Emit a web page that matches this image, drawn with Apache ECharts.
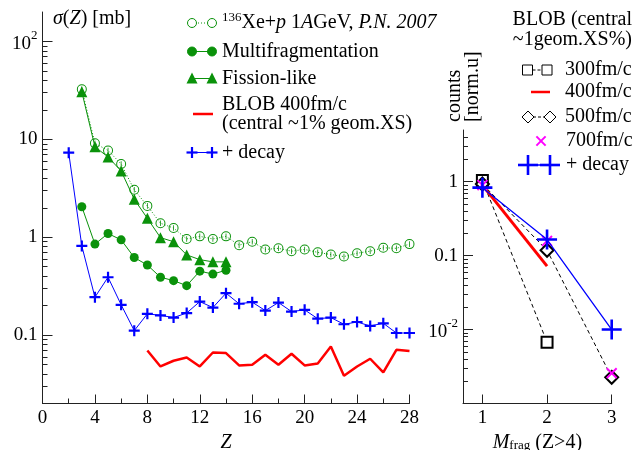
<!DOCTYPE html>
<html>
<head>
<meta charset="utf-8">
<script src="https://cdn.jsdelivr.net/npm/echarts@6/dist/echarts.min.js"></script>
<style>
  html, body { margin: 0; padding: 0; background: #fff; }
  #chart { width: 634px; height: 450px; }
</style>
</head>
<body>
<div id="chart"></div>
<script>
// ---- charge distribution sigma(Z), left panel ----
const zValues = [2, 3, 4, 5, 6, 7, 8, 9, 10, 11, 12, 13, 14, 15, 16, 17, 18, 19, 20, 21, 22, 23, 24, 25, 26, 27, 28];

// 136Xe+p 1 AGeV measurement, Z = 3..28
const expZ = [3, 4, 5, 6, 7, 8, 9, 10, 11, 12, 13, 14, 15, 16, 17, 18, 19, 20, 21, 22, 23, 24, 25, 26, 27, 28];
const expSigma = [32.4, 9.1, 7.7, 5.6, 3.05, 2.09, 1.39, 1.24, 0.96, 1.02, 0.96, 1.02, 0.83, 0.90, 0.75, 0.77, 0.72, 0.75, 0.70, 0.665, 0.634, 0.686, 0.72, 0.78, 0.77, 0.85];

// multifragmentation and fission-like components, Z = 3..14
const compZ = [3, 4, 5, 6, 7, 8, 9, 10, 11, 12, 13, 14];
const multifragSigma = [2.05, 0.85, 1.09, 0.94, 0.62, 0.52, 0.39, 0.36, 0.32, 0.45, 0.42, 0.46];
const fissionSigma = [30.6, 8.4, 6.6, 4.75, 2.44, 1.56, 0.99, 0.90, 0.66, 0.59, 0.56, 0.56];

// BLOB 400 fm/c (central ~1% geom. XS), Z = 8..28
const blobZ = [8, 9, 10, 11, 12, 13, 14, 15, 16, 17, 18, 19, 20, 21, 22, 23, 24, 25, 26, 27, 28];
const blobSigma = [0.0697, 0.0478, 0.0547, 0.059, 0.0478, 0.0664, 0.0655, 0.049, 0.0498, 0.063, 0.0498, 0.0645, 0.049, 0.0513, 0.0765, 0.0384, 0.0478, 0.0573, 0.0415, 0.0708, 0.0687];

// BLOB + secondary decay, Z = 2..28
const decaySigma = [7.3, 0.815, 0.244, 0.39, 0.204, 0.111, 0.165, 0.159, 0.151, 0.168, 0.22, 0.191, 0.268, 0.209, 0.217, 0.178, 0.215, 0.174, 0.181, 0.147, 0.151, 0.129, 0.136, 0.124, 0.132, 0.105, 0.105];

// ---- fragment multiplicity (Z>4), right panel ----
const mfrag300 = [1, 2];
const counts300 = [1.04, 0.00675];
const mfrag400 = [1, 2];
const counts400 = [0.9, 0.072];
const mfrag500 = [1, 2, 3];
const counts500 = [0.93, 0.118, 0.00226];
const mfrag700 = [1, 2, 3];
const counts700 = [0.9, 0.158, 0.00257];
const mfragDecay = [1, 2, 3];
const countsDecay = [0.83, 0.165, 0.01];

// ---- tick positions ----
const mfragTicks = [1, 2, 3];
const sigmaMajorTicks = [0.1, 1, 10, 100];
const countsMajorTicks = [0.01, 0.1, 1];
const decadeSteps = [2, 3, 4, 5, 6, 7, 8, 9];

// minor log ticks: 2..9 times each decade, kept inside [lo, hi]
function minorLogTicks(lo, hi) {
  const out = [];
  for (let e = Math.floor(Math.log10(lo)); e <= Math.ceil(Math.log10(hi)); e++) {
    decadeSteps.forEach(function (k) {
      const v = +(k * Math.pow(10, e)).toPrecision(6);
      if (v > lo * 1.0001 && v < hi * 0.9999) out.push(v);
    });
  }
  return out;
}

const pair = (xs, ys) => xs.map((x, i) => [x, ys[i]]);

const FONT = 'Liberation Serif';
const FS = 19;      // tick labels
const LFS = 20;     // legends and titles
const GREEN = '#0a920a';
const BLUE = '#0000ff';
const RED = '#ff0000';
const MAGENTA = '#ff00ff';
const AXIS = '#222';
const PLUS = 'path://M0,4H10V6H0Z M4,0H6V10H4Z';
const PLUS_THIN = 'path://M0,4.35H10V5.65H0Z M4.35,0H5.65V10H4.35Z';
const CROSS = 'path://M0,4.3H10V5.7H0Z M4.3,0H5.7V10H4.3Z';
// open circle with a short vertical error bar inside
const RING_BAR = 'path://M5,0A5,5,0,1,1,5,10A5,5,0,1,1,5,0Z M5,1A4,4,0,1,0,5,9A4,4,0,1,0,5,1Z M4.6,2.2H5.4V7.8H4.6Z';

function logLabel(v) {
  const e = Math.log10(v);
  const r = Math.round(e);
  if (Math.abs(e - r) > 1e-6) return '';
  if (r === 0) return '1';
  if (r === -1) return '0.1';
  if (r === 1) return '10';
  return '{b|10}{s|' + r + '}';
}

const labelRich = {
  b: { fontFamily: FONT, fontSize: FS, color: '#000', lineHeight: 24, verticalAlign: 'bottom' },
  s: { fontFamily: FONT, fontSize: 13, color: '#000', lineHeight: 24, verticalAlign: 'top' }
};

const chart = echarts.init(document.getElementById('chart'), null, { renderer: 'canvas' });

// legend helpers (drawn with graphic primitives)
function hLine(x1, x2, y, color, width, dash) {
  return { type: 'line', shape: { x1: x1, y1: y, x2: x2, y2: y }, style: { stroke: color, lineWidth: width, lineDash: dash || null } };
}
function circ(x, y, r, stroke, fill) {
  return { type: 'circle', shape: { cx: x, cy: y, r: r }, style: { stroke: stroke, fill: fill, lineWidth: 1 } };
}
function tri(x, y, s, color) {
  return { type: 'polygon', shape: { points: [[x, y - s * 0.55], [x - s / 2, y + s * 0.45], [x + s / 2, y + s * 0.45]] }, style: { fill: color } };
}
function plus(x, y, s, w, color) {
  return [
    { type: 'line', shape: { x1: x - s / 2, y1: y, x2: x + s / 2, y2: y }, style: { stroke: color, lineWidth: w } },
    { type: 'line', shape: { x1: x, y1: y - s / 2, x2: x, y2: y + s / 2 }, style: { stroke: color, lineWidth: w } }
  ];
}
function rect(x, y, s) {
  return { type: 'rect', shape: { x: x - s / 2, y: y - s / 2, width: s, height: s }, style: { stroke: '#000', fill: '#fff', lineWidth: 1 } };
}
function diamond(x, y, s) {
  return { type: 'polygon', shape: { points: [[x, y - s / 2], [x + s / 2, y], [x, y + s / 2], [x - s / 2, y]] }, style: { stroke: '#000', fill: '#fff', lineWidth: 1 } };
}
function txt(x, y, text, opts, rotation) {
  const el = {
    type: 'text', x: x, y: y,
    style: Object.assign({ x: 0, y: 0, text: text, fontFamily: FONT, fontSize: LFS, fill: '#000', verticalAlign: 'middle', align: 'left' }, opts || {})
  };
  if (rotation) el.rotation = rotation;
  return el;
}

const richLegend = {
  s: { fontFamily: FONT, fontSize: 13, verticalAlign: 'top', lineHeight: 22, fill: '#000' },
  i: { fontFamily: FONT, fontSize: LFS, fontStyle: 'italic', lineHeight: 22, verticalAlign: 'bottom', fill: '#000' },
  n: { fontFamily: FONT, fontSize: LFS, lineHeight: 22, verticalAlign: 'bottom', fill: '#000' }
};

const graphics = [
  // left panel legend
  hLine(192, 212, 23, GREEN, 1, [1, 2]),
  circ(192, 23, 4.5, GREEN, '#fff'),
  circ(212, 23, 4.5, GREEN, '#fff'),
  txt(222, 22, '{s|136}{n|Xe+}{i|p}{n| 1}{i|A}{n|GeV, }{i|P.N. 2007}', { rich: richLegend }),

  hLine(192, 212, 51.5, GREEN, 1),
  circ(192, 51.5, 4.5, GREEN, GREEN),
  circ(212, 51.5, 4.5, GREEN, GREEN),
  txt(222, 51.5, 'Multifragmentation'),

  hLine(192, 212, 78.5, GREEN, 1),
  tri(192, 78.5, 11, GREEN),
  tri(212, 78.5, 11, GREEN),
  txt(222, 78.5, 'Fission-like'),

  hLine(193, 213, 114, RED, 2.5),
  txt(222, 104.5, 'BLOB 400fm/c'),
  txt(222, 123.5, '(central ~1% geom.XS)'),

  hLine(192, 212, 152.5, BLUE, 1),
  ...plus(192, 152.5, 11, 2.2, BLUE),
  ...plus(212, 152.5, 11, 2.2, BLUE),
  txt(222, 152.5, '+ decay'),

  // left panel y title
  txt(53, 19, '{g|σ}{n|(}{i|Z}{n|) [mb]}', {
    rich: {
      g: { fontFamily: FONT, fontSize: LFS, fontStyle: 'italic', fill: '#000' },
      i: { fontFamily: FONT, fontSize: LFS, fontStyle: 'italic', fill: '#000' },
      n: { fontFamily: FONT, fontSize: LFS, fill: '#000' }
    }
  }),

  // right panel legend
  txt(632, 19.5, 'BLOB (central', { align: 'right' }),
  txt(632, 39.5, '~1geom.XS%)', { align: 'right' }),

  hLine(527.5, 547, 70, '#000', 1, [3, 2]),
  rect(527.5, 70, 10),
  rect(547, 70, 10),
  txt(565, 70, '300fm/c'),

  hLine(531, 550, 92, RED, 2.5),
  txt(565, 92, '400fm/c'),

  hLine(528, 550, 117, '#000', 1, [3, 2]),
  diamond(528, 117, 12),
  diamond(550, 117, 12),
  txt(565, 117, '500fm/c'),

  {
    type: 'group', x: 541, y: 141, rotation: Math.PI / 4,
    children: plus(0, 0, 13, 2, MAGENTA)
  },
  txt(566, 141, '700fm/c'),

  hLine(528, 550, 165, BLUE, 1.5),
  ...plus(528, 165, 20, 2.6, BLUE),
  ...plus(550, 165, 20, 2.6, BLUE),
  txt(566, 165, '+ decay'),

  // right panel y title (two rotated lines)
  txt(455, 122, 'counts', null, Math.PI / 2),
  txt(473, 122, '[norm.u]', null, Math.PI / 2)
];

function majorLogAxis(grid, lo, hi, ticks) {
  return {
    gridIndex: grid, type: 'log', logBase: 10, min: lo, max: hi, position: 'left',
    axisLine: { show: true, onZero: false, lineStyle: { color: AXIS, width: 1 } },
    axisTick: { show: true, inside: true, length: 10, customValues: ticks, lineStyle: { color: AXIS } },
    minorTick: { show: false },
    splitLine: { show: false },
    axisLabel: { fontFamily: FONT, fontSize: FS, color: '#000', margin: 5, formatter: logLabel, rich: labelRich, customValues: ticks }
  };
}
function minorLogAxis(grid, lo, hi) {
  return {
    gridIndex: grid, type: 'log', logBase: 10, min: lo, max: hi, position: 'left', offset: 0,
    axisLine: { show: false },
    axisTick: { show: true, inside: true, length: 5, customValues: minorLogTicks(lo, hi), lineStyle: { color: AXIS } },
    minorTick: { show: false },
    splitLine: { show: false },
    axisLabel: { show: false }
  };
}

const option = {
  animation: false,
  backgroundColor: '#fff',
  textStyle: { fontFamily: FONT },
  grid: [
    { left: 42.5, right: 224.5, top: 12, bottom: 46.5, outerBoundsMode: 'none' },
    { left: 463, right: 22.3, top: 130, bottom: 46.5, outerBoundsMode: 'none' }
  ],
  xAxis: [
    {
      gridIndex: 0, type: 'value', min: 0, max: 28, interval: 4,
      axisLine: { show: true, onZero: false, lineStyle: { color: AXIS, width: 1 } },
      axisTick: { show: true, inside: true, length: 9, lineStyle: { color: AXIS } },
      minorTick: { show: true, splitNumber: 2, length: 5, lineStyle: { color: AXIS } },
      splitLine: { show: false },
      axisLabel: { fontFamily: FONT, fontSize: FS, color: '#000', margin: 5 },
      name: 'Z', nameLocation: 'middle', nameGap: 29,
      nameTextStyle: { fontFamily: FONT, fontSize: LFS, fontStyle: 'italic', color: '#000' }
    },
    {
      gridIndex: 1, type: 'value', min: 0.7, max: 3,
      axisLine: { show: true, onZero: false, lineStyle: { color: AXIS, width: 1 } },
      axisTick: { show: true, inside: true, length: 9, customValues: mfragTicks, lineStyle: { color: AXIS } },
      minorTick: { show: false },
      splitLine: { show: false },
      axisLabel: { fontFamily: FONT, fontSize: FS, color: '#000', margin: 5, customValues: mfragTicks },
      name: '{i|M}{sub|frag}{n| (Z>4)}', nameLocation: 'middle', nameGap: 23,
      nameTextStyle: {
        rich: {
          i: { fontFamily: FONT, fontSize: LFS, fontStyle: 'italic', color: '#000', lineHeight: 20, verticalAlign: 'top' },
          sub: { fontFamily: FONT, fontSize: 13, color: '#000', lineHeight: 20, verticalAlign: 'bottom' },
          n: { fontFamily: FONT, fontSize: LFS, color: '#000', lineHeight: 20, verticalAlign: 'top' }
        }
      }
    }
  ],
  yAxis: [
    majorLogAxis(0, 0.02, 200, sigmaMajorTicks),
    minorLogAxis(0, 0.02, 200),
    majorLogAxis(1, 0.001, 5, countsMajorTicks),
    minorLogAxis(1, 0.001, 5)
  ],
  series: [
    {
      name: 'Xe+p', type: 'line', xAxisIndex: 0, yAxisIndex: 0,
      data: pair(expZ, expSigma),
      symbol: RING_BAR, symbolSize: 10,
      itemStyle: { color: GREEN },
      lineStyle: { color: GREEN, width: 1, type: [1, 2] }
    },
    {
      name: 'Multifragmentation', type: 'line', xAxisIndex: 0, yAxisIndex: 0,
      data: pair(compZ, multifragSigma),
      symbol: 'circle', symbolSize: 9,
      itemStyle: { color: GREEN },
      lineStyle: { color: GREEN, width: 1 }
    },
    {
      name: 'Fission-like', type: 'line', xAxisIndex: 0, yAxisIndex: 0,
      data: pair(compZ, fissionSigma),
      symbol: 'triangle', symbolSize: 11,
      itemStyle: { color: GREEN },
      lineStyle: { color: GREEN, width: 1 }
    },
    {
      name: '+ decay', type: 'line', xAxisIndex: 0, yAxisIndex: 0,
      data: pair(zValues, decaySigma),
      symbol: PLUS, symbolSize: 11,
      itemStyle: { color: BLUE },
      lineStyle: { color: BLUE, width: 1 }
    },
    {
      name: 'BLOB 400fm/c', type: 'line', xAxisIndex: 0, yAxisIndex: 0,
      data: pair(blobZ, blobSigma),
      showSymbol: false, symbol: 'none',
      lineStyle: { color: RED, width: 2.5 }
    },
    // right panel
    {
      name: '300fm/c', type: 'line', xAxisIndex: 1, yAxisIndex: 2, z: 2,
      data: pair(mfrag300, counts300),
      symbol: 'emptyRect', symbolSize: 11,
      itemStyle: { color: '#000', borderWidth: 1 },
      lineStyle: { color: '#000', width: 1, type: [4, 3] }
    },
    {
      name: '400fm/c', type: 'line', xAxisIndex: 1, yAxisIndex: 2, z: 2,
      data: pair(mfrag400, counts400),
      symbol: 'none',
      lineStyle: { color: RED, width: 3 }
    },
    {
      name: '500fm/c', type: 'line', xAxisIndex: 1, yAxisIndex: 2, z: 2,
      data: pair(mfrag500, counts500),
      symbol: 'emptyDiamond', symbolSize: 13,
      itemStyle: { color: '#000', borderWidth: 1 },
      lineStyle: { color: '#000', width: 1, type: [4, 3] }
    },
    {
      name: '700fm/c', type: 'scatter', xAxisIndex: 1, yAxisIndex: 2, z: 3,
      data: pair(mfrag700, counts700),
      symbol: CROSS, symbolSize: 14, symbolRotate: 45,
      itemStyle: { color: MAGENTA, opacity: 1 }
    },
    {
      name: '+ decay (M)', type: 'line', xAxisIndex: 1, yAxisIndex: 2, z: 4,
      data: pair(mfragDecay, countsDecay),
      symbol: PLUS_THIN, symbolSize: 20,
      itemStyle: { color: BLUE },
      lineStyle: { color: BLUE, width: 1.3 }
    }
  ],
  graphic: { elements: graphics }
};

chart.setOption(option);
</script>
</body>
</html>
